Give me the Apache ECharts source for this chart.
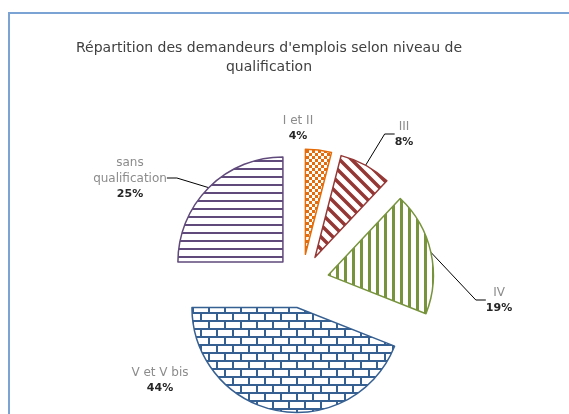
<!DOCTYPE html>
<html>
<head>
<meta charset="utf-8">
<script src="https://cdn.jsdelivr.net/npm/echarts@6/dist/echarts.min.js"></script>
<style>
  html, body { margin: 0; padding: 0; background: #fff; }
  #chart { width: 569px; height: 414px; }
</style>
</head>
<body>
<div id="chart"></div>
<script>
const categories = ['I et II', 'III', 'IV', 'V et V bis', 'sans qualification'];
const shares = [4, 8, 19, 44, 25];
const sliceColors = ['#e46c0a', '#953735', '#77933c', '#376092', '#604a7b'];
const patternKinds = ['checker', 'diagonal', 'vertical', 'brick', 'horizontal'];

// where Excel put each label (centre of the text block)
const labelSpots = {
  'I et II': [298, 128],
  'III': [404, 134],
  'IV': [499, 300],
  'V et V bis': [160, 380],
  'sans qualification': [130, 178]
};
const noLine = { 'I et II': true, 'V et V bis': true };

const pieCenter = [302, 281];
const pieRadius = 105;
const explode = 27;

// small canvas tiles used as repeating fills
function makePattern(kind, color) {
  const c = document.createElement('canvas');
  const ctx = c.getContext('2d');
  let w = 8, h = 8;
  if (kind === 'checker') { w = 6; h = 6; }
  if (kind === 'brick') { w = 16; h = 16; }
  if (kind === 'diagonal') { w = 12; h = 12; }
  c.width = w; c.height = h;
  ctx.fillStyle = '#fff';
  ctx.fillRect(0, 0, w, h);
  ctx.fillStyle = color;
  ctx.strokeStyle = color;
  if (kind === 'checker') {
    ctx.fillRect(0, 0, 3, 3);
    ctx.fillRect(3, 3, 3, 3);
  } else if (kind === 'vertical') {
    ctx.fillRect(0, 0, 3, h);
  } else if (kind === 'horizontal') {
    ctx.fillRect(0, 0, w, 2);
  } else if (kind === 'brick') {
    ctx.fillRect(0, 0, w, 2);
    ctx.fillRect(0, 8, w, 2);
    ctx.fillRect(0, 0, 2, 8);
    ctx.fillRect(8, 8, 2, 8);
  } else if (kind === 'diagonal') {
    ctx.lineWidth = 3.5;
    ctx.beginPath();
    ctx.moveTo(-2, -2); ctx.lineTo(w + 2, h + 2);
    ctx.moveTo(-2 - w, -2); ctx.lineTo(2, h + 2);
    ctx.moveTo(w - 2, -2); ctx.lineTo(2 * w + 2, h + 2);
    ctx.stroke();
  }
  return c;
}

const total = shares.reduce((a, b) => a + b, 0);

// one pie per slice so each can be pulled out and keep its own label placement
let acc = 0;
const pies = categories.map((name, i) => {
  const mid = (acc + shares[i] / 2) / total * 2 * Math.PI;
  acc += shares[i];
  const cx = pieCenter[0] + explode * Math.sin(mid);
  const cy = pieCenter[1] - explode * Math.cos(mid);
  return {
    type: 'pie',
    name: name,
    center: [cx, cy],
    radius: pieRadius,
    startAngle: 90,
    clockwise: true,
    silent: true,
    avoidLabelOverlap: false,
    percentPrecision: 0,
    label: {
      position: 'outside',
      formatter: function (p) {
        const txt = p.name.length > 12 ? p.name.replace(' ', '\n') : p.name;
        return '{n|' + txt.split('\n').join('}\n{n|') + '}\n{p|' + p.percent + '%}';
      },
      rich: {
        n: { fontFamily: 'DejaVu Sans', fontSize: 12, color: '#8c8c8c', align: 'center', lineHeight: 16 },
        p: { fontFamily: 'DejaVu Sans', fontSize: 11, color: '#262626', fontWeight: 'bold', align: 'center', lineHeight: 15 }
      }
    },
    labelLine: {
      length: 18,
      length2: 10,
      lineStyle: { color: '#000', width: 1 }
    },
    labelLayout: function (params) {
      const spot = labelSpots[categories[params.dataIndex]];
      return { x: spot[0], y: spot[1], align: 'center', verticalAlign: 'middle' };
    },
    data: categories.map((n, j) => ({
      name: n,
      value: shares[j],
      itemStyle: j === i ? {
        color: { image: makePattern(patternKinds[j], sliceColors[j]), repeat: 'repeat' },
        borderColor: sliceColors[j],
        borderWidth: 1.5
      } : { color: 'transparent', borderWidth: 0 },
      label: { show: j === i },
      labelLine: { show: j === i && !noLine[n] }
    }))
  };
});

const chart = echarts.init(document.getElementById('chart'));
chart.setOption({
  animation: false,
  title: {
    text: 'Répartition des demandeurs d\'emplois selon niveau de\nqualification',
    left: 264,
    top: 34,
    textAlign: 'center',
    textStyle: {
      fontFamily: 'DejaVu Sans',
      fontSize: 14,
      fontWeight: 'normal',
      color: '#404040',
      lineHeight: 19
    }
  },
  graphic: [{
    type: 'rect',
    shape: { x: 9, y: 13, width: 620, height: 460 },
    style: { fill: 'none', stroke: '#7ba3d4', lineWidth: 2 },
    silent: true
  }],
  series: pies
});
</script>
</body>
</html>
